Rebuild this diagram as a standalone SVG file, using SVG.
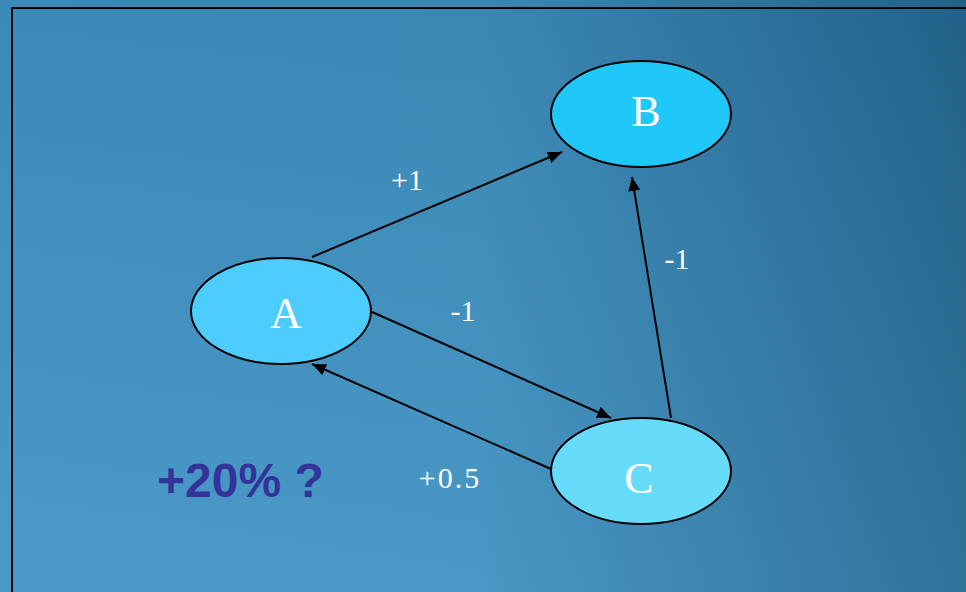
<svg xmlns="http://www.w3.org/2000/svg" width="966" height="592" viewBox="0 0 966 592">
<defs>
<linearGradient id="bg" x1="0" y1="0" x2="1" y2="0">
<stop offset="0" stop-color="#3f93c6"/>
<stop offset="0.5" stop-color="#3e91c1"/>
<stop offset="1" stop-color="#246993"/>
</linearGradient>
<linearGradient id="shade" x1="0" y1="0" x2="0" y2="1">
<stop offset="0" stop-color="#000" stop-opacity="0.07"/>
<stop offset="1" stop-color="#fff" stop-opacity="0.06"/>
</linearGradient>
<marker id="ah" viewBox="0 0 14 12" refX="14" refY="6" markerWidth="14" markerHeight="12" markerUnits="userSpaceOnUse" orient="auto">
<path d="M0,0 L14,6 L0,12 z" fill="#000"/>
</marker>
<style>
.node ellipse{stroke:#000;stroke-width:2}
.nl{font-family:"Liberation Serif",serif;font-size:44px;fill:#fff;text-anchor:middle}
.el{font-family:"Liberation Serif",serif;font-size:30px;fill:#fff;text-anchor:middle}
.edges line{stroke:#000;stroke-width:2;marker-end:url(#ah)}
</style>
</defs>
<rect x="0" y="0" width="966" height="592" fill="url(#bg)"/>
<rect x="0" y="0" width="966" height="592" fill="url(#shade)"/>
<rect x="12" y="8" width="960" height="600" fill="none" stroke="#000" stroke-width="2"/>
<g id="edges" class="edges">
<line x1="312" y1="257" x2="562" y2="152"/>
<line x1="372" y1="312" x2="611" y2="418"/>
<line x1="551" y1="469" x2="312" y2="364"/>
<line x1="671" y1="418" x2="632" y2="177"/>
</g>
<g id="edge-labels">
<text class="el" x="407" y="190">+1</text>
<text class="el" x="463" y="321">-1</text>
<text class="el" x="677" y="269">-1</text>
<text class="el" x="450" y="488" letter-spacing="2">+0.5</text>
</g>
<g id="node-B" class="node">
<ellipse cx="641" cy="114" rx="90" ry="53" fill="#1fc8f8"/>
<text class="nl" x="646" y="126">B</text>
</g>
<g id="node-A" class="node">
<ellipse cx="281" cy="311" rx="90" ry="53" fill="#4ccdfd"/>
<text class="nl" x="286" y="328">A</text>
</g>
<g id="node-C" class="node">
<ellipse cx="641" cy="471" rx="90" ry="53" fill="#66dbfa"/>
<text class="nl" x="639" y="493">C</text>
</g>
<text x="157" y="497" font-family="Liberation Sans,Arial,sans-serif" font-weight="bold" font-size="48" fill="#333399">+20% ?</text>
</svg>
